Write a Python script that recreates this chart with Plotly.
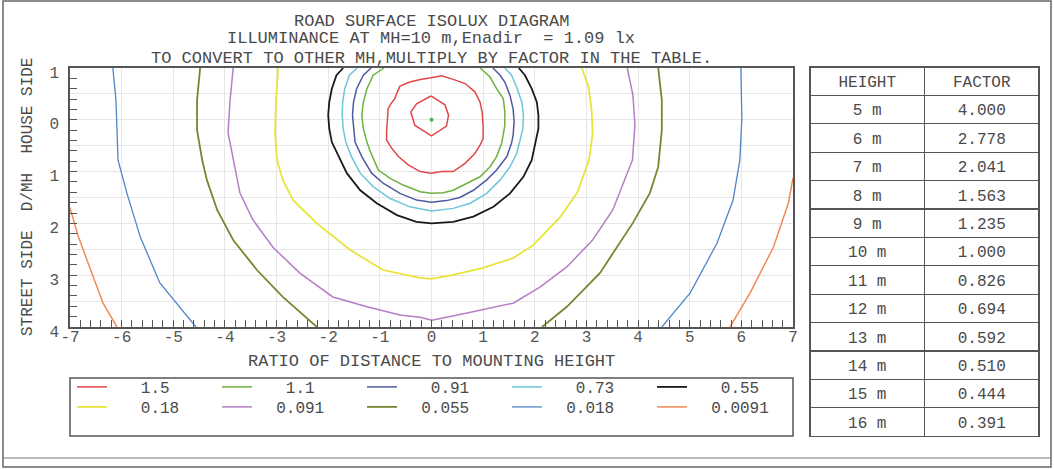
import plotly.graph_objects as go

# ---------------- data ----------------
levels = ["1.5", "1.1", "0.91", "0.73", "0.55",
          "0.18", "0.091", "0.055", "0.018", "0.0091"]

# isolux curves, x = ratio of distance to MH, y = D/MH (negative = house side)
iso_1_5_x = [-0.01, 0.26, 0.33, 0.29, 0.00, -0.32, -0.40, -0.29, -0.01, None,
             -0.01, 0.20, 0.42, 0.65, 0.84, 0.94, 0.98, 1.00, 1.00, 0.94, 0.84, 0.65,
             0.42, 0.20, -0.01, -0.22, -0.45, -0.64, -0.77, -0.87, -0.87, -0.86, -0.84,
             -0.80, -0.71, -0.66, -0.61, -0.42, -0.22, -0.01]
iso_1_5_y = [-0.46, -0.29, -0.09, 0.12, 0.31, 0.11, -0.15, -0.31, -0.46, None,
             -0.81, -0.85, -0.78, -0.70, -0.54, -0.34, -0.15, 0.11, 0.36, 0.49, 0.65, 0.84,
             1.00, 1.00, 1.03, 1.00, 0.87, 0.71, 0.55, 0.39, 0.24, -0.02, -0.21,
             -0.29, -0.41, -0.54, -0.65, -0.73, -0.78, -0.81]

iso_1_1_x = [-0.92, -1.13, -1.25, -1.32, -1.35, -1.32, -1.25, -1.19, -1.03, -0.80, -0.55,
             -0.22, 0.00, 0.23, 0.42, 0.68, 0.94, 1.13, 1.26, 1.36, 1.42, 1.42, 1.39, 1.26,
             1.13, 0.94]
iso_1_1_y = [-1.00, -0.86, -0.60, -0.34, -0.09, 0.17, 0.43, 0.60, 0.97, 1.13, 1.26,
             1.39, 1.42, 1.41, 1.36, 1.23, 1.10, 0.91, 0.71, 0.45, 0.11, -0.15, -0.41, -0.60,
             -0.83, -1.00]

iso_0_91_x = [-1.17, -1.32, -1.45, -1.51, -1.53, -1.51, -1.48, -1.35, -1.16, -0.93, -0.61,
              -0.29, 0.00, 0.29, 0.55, 0.81, 1.07, 1.26, 1.46, 1.55, 1.58, 1.60, 1.58, 1.52,
              1.42, 1.32, 1.19]
iso_0_91_y = [-1.00, -0.86, -0.60, -0.34, -0.09, 0.17, 0.43, 0.71, 1.03, 1.23, 1.42,
              1.55, 1.59, 1.56, 1.50, 1.36, 1.16, 0.97, 0.71, 0.45, 0.30, 0.04, -0.21, -0.47,
              -0.73, -0.87, -1.00]

iso_0_73_x = [-1.44, -1.59, -1.68, -1.72, -1.73, -1.71, -1.66, -1.55, -1.38, -1.13, -0.80,
              -0.42, 0.00, 0.42, 0.75, 1.07, 1.33, 1.52, 1.65, 1.71, 1.77, 1.78, 1.75, 1.66,
              1.55, 1.42]
iso_0_73_y = [-1.00, -0.86, -0.60, -0.34, -0.09, 0.17, 0.43, 0.71, 1.03, 1.29, 1.52,
              1.68, 1.76, 1.71, 1.61, 1.42, 1.16, 0.91, 0.65, 0.42, 0.17, -0.09, -0.34, -0.60,
              -0.86, -1.00]

iso_0_55_x = [-1.71, -1.84, -1.93, -1.98, -2.00, -1.98, -1.93, -1.80, -1.64, -1.38, -1.06,
              -0.67, -0.29, 0.00, 0.42, 0.81, 1.20, 1.52, 1.78, 1.94, 2.00, 2.07, 2.07, 2.04,
              1.94, 1.81, 1.69]
iso_0_55_y = [-1.00, -0.86, -0.60, -0.34, -0.09, 0.17, 0.43, 0.71, 1.03, 1.36, 1.61,
              1.84, 1.97, 2.00, 1.97, 1.87, 1.68, 1.42, 1.10, 0.78, 0.49, 0.17, -0.09, -0.34,
              -0.60, -0.86, -1.00]

iso_0_18_x = [-2.97, -3.01, -3.03, -2.99, -2.88, -2.68, -2.22, -1.58, -0.94, -0.22, 0.00,
              0.40, 1.00, 1.58, 1.97, 2.49, 2.82, 3.05, 3.12, 3.10, 3.04, 2.91]
iso_0_18_y = [-1.00, -0.38, 0.25, 0.78, 1.16, 1.55, 2.00, 2.51, 2.90, 3.05, 3.07,
              3.00, 2.86, 2.67, 2.42, 1.88, 1.41, 0.78, 0.26, -0.19, -0.64, -1.00]

iso_0_091_x = [-3.84, -3.90, -3.94, -3.84, -3.71, -3.46, -3.07, -2.55, -1.91, -1.25, -0.61,
               -0.22, 0.01, 0.69, 1.58, 2.10, 2.62, 3.12, 3.51, 3.79, 3.89, 3.94, 3.90, 3.79]
iso_0_091_y = [-1.00, -0.38, 0.25, 0.78, 1.41, 1.93, 2.46, 2.96, 3.42, 3.61, 3.77,
               3.81, 3.87, 3.73, 3.54, 3.23, 2.84, 2.32, 1.74, 1.03, 0.78, 0.10, -0.48, -1.00]

iso_0_055_x = [-4.48, -4.54, -4.54, -4.44, -4.35, -4.15, -3.84, -3.38, -2.88, -2.22, None,
               2.14, 2.62, 3.26, 3.90, 4.23, 4.39, 4.46, 4.46, 4.39]
iso_0_055_y = [-1.00, -0.38, 0.20, 0.78, 1.16, 1.74, 2.32, 2.90, 3.42, 4.00, None,
               4.00, 3.61, 2.96, 1.99, 1.41, 0.91, 0.20, -0.38, -1.00]

iso_0_018_x = [-6.17, -6.11, -6.09, -6.07, -5.90, -5.64, -5.26, -4.56, None,
               4.46, 5.01, 5.53, 5.84, 5.97, 6.01, 5.99]
iso_0_018_y = [-1.00, -0.38, 0.20, 0.78, 1.41, 2.26, 3.15, 4.00, None,
               4.00, 3.34, 2.38, 1.55, 0.78, -0.03, -1.00]

iso_0_0091_x = [-7.00, -6.85, -6.67, -6.36, -6.09, None, 5.78, 6.17, 6.62, 6.91, 7.00]
iso_0_0091_y = [1.70, 2.22, 2.71, 3.54, 4.00, None, 4.00, 3.34, 2.46, 1.61, 1.12]

lamp_x = [0.0]
lamp_y = [0.0]

x_ticks = [-7, -6, -5, -4, -3, -2, -1, 0, 1, 2, 3, 4, 5, 6, 7]
x_tick_labels = ["-7", "-6", "-5", "-4", "-3", "-2", "-1", "0", "1", "2", "3", "4", "5", "6", "7"]
y_ticks = [-1, 0, 1, 2, 3, 4]
y_tick_labels = ["1", "0", "1", "2", "3", "4"]

mh_heights = ["5 m", "6 m", "7 m", "8 m", "9 m", "10 m", "11 m", "12 m",
              "13 m", "14 m", "15 m", "16 m"]
mh_factors = [4.000, 2.778, 2.041, 1.563, 1.235, 1.000, 0.826, 0.694,
              0.592, 0.510, 0.444, 0.391]

title_lines = ["ROAD SURFACE ISOLUX DIAGRAM",
               "ILLUMINANCE AT MH=10 m,Enadir\u00a0\u00a0= 1.09 lx",
               "TO CONVERT TO OTHER MH,MULTIPLY BY FACTOR IN THE TABLE."]
x_title = "RATIO OF DISTANCE TO MOUNTING HEIGHT"
y_title = "STREET SIDE\u00a0\u00a0D/MH\u00a0\u00a0HOUSE SIDE"

# ---------------- styles ----------------
W, H = 1054, 469
FONT = "Liberation Mono"
TXT = "#4a4a4a"
AX = "#555555"
GRID = "#e6e6e6"
colors = ["#e04848", "#6cb33f", "#4f5aa5", "#6ec6dc", "#1a1a1a",
          "#e8e43a", "#b57ec7", "#7b8430", "#4f86c6", "#f08b55"]
widths = [1.5, 1.5, 1.5, 1.5, 1.8, 1.8, 1.5, 1.8, 1.3, 1.5]

iso_x = [iso_1_5_x, iso_1_1_x, iso_0_91_x, iso_0_73_x, iso_0_55_x,
         iso_0_18_x, iso_0_091_x, iso_0_055_x, iso_0_018_x, iso_0_0091_x]
iso_y = [iso_1_5_y, iso_1_1_y, iso_0_91_y, iso_0_73_y, iso_0_55_y,
         iso_0_18_y, iso_0_091_y, iso_0_055_y, iso_0_018_y, iso_0_0091_y]


def fx(p):
    return p / W


def fy(p):
    return 1 - p / H


def legend_label(s):
    pad = 3 if len(s) <= 4 else 2
    return "\u00a0" * pad + s


fig = go.Figure()
for i, lv in enumerate(levels):
    fig.add_trace(go.Scatter(
        x=iso_x[i], y=iso_y[i], mode="lines", name=legend_label(lv),
        line=dict(color=colors[i], width=widths[i]),
        legend="legend" if i < 5 else "legend2",
        connectgaps=False, hoverinfo="skip"))

fig.add_trace(go.Scatter(x=lamp_x, y=lamp_y, mode="markers", yaxis="y2",
                         marker=dict(color="#4caf50", size=4), showlegend=False,
                         hoverinfo="skip"))

cell_font = dict(family=FONT, size=16, color=TXT)
fig.add_trace(go.Table(
    domain=dict(x=[fx(810), fx(1040)], y=[fy(438), fy(67)]),
    columnwidth=[1, 1],
    header=dict(values=["HEIGHT", "FACTOR"], height=28.4, align="center",
                fill_color="white", line=dict(color=AX, width=1.2), font=cell_font),
    cells=dict(values=[mh_heights, [f"{v:.3f}" for v in mh_factors]], height=28.4,
               align="center", fill_color="white", line=dict(color=AX, width=1.2),
               font=cell_font)))

axis_font = dict(family=FONT, size=16, color="#555555")
legend_common = dict(orientation="h", xanchor="left", yanchor="top",
                     entrywidth=100, entrywidthmode="pixels", itemwidth=30,
                     font=dict(family=FONT, size=16, color=TXT),
                     bgcolor="rgba(0,0,0,0)", borderwidth=0,
                     itemclick=False, itemdoubleclick=False)

annotations = []
for k, (txt, yy) in enumerate(zip(title_lines, [21, 39, 58])):
    annotations.append(dict(text=txt, x=fx(431.5), y=fy(yy), xref="paper", yref="paper",
                            xanchor="center", yanchor="middle", showarrow=False,
                            font=dict(family=FONT, size=17, color=TXT)))
annotations.append(dict(text=x_title, x=fx(431.5), y=fy(361), xref="paper", yref="paper",
                        xanchor="center", yanchor="middle", showarrow=False,
                        font=dict(family=FONT, size=17, color=TXT)))
annotations.append(dict(text=y_title, x=fx(28), y=fy(197), xref="paper", yref="paper",
                        xanchor="center", yanchor="middle", showarrow=False, textangle=-90,
                        font=dict(family=FONT, size=16, color=TXT)))

shapes = [
    dict(type="rect", xref="paper", yref="paper", x0=fx(3), x1=fx(1051), y0=fy(467), y1=fy(1),
         line=dict(color="#666666", width=1.5)),
    dict(type="line", xref="paper", yref="paper", x0=fx(3), x1=fx(1051), y0=fy(458), y1=fy(458),
         line=dict(color="#777777", width=1.2)),
    dict(type="rect", xref="paper", yref="paper", x0=fx(70), x1=fx(793), y0=fy(436), y1=fy(378),
         line=dict(color=AX, width=1.5)),
]

fig.update_layout(
    width=W, height=H, margin=dict(l=0, r=0, t=0, b=0, pad=0),
    paper_bgcolor="white", plot_bgcolor="white", showlegend=True,
    xaxis=dict(domain=[fx(70), fx(793)], range=[-7, 7], tickmode="array",
               tickvals=x_ticks, ticktext=x_tick_labels, ticks="inside", ticklen=7,
               tickcolor=AX, tickwidth=1, showgrid=True, gridcolor=GRID, gridwidth=1,
               zeroline=False, showline=True, linecolor=AX, linewidth=1.5, mirror=True,
               tickfont=axis_font, automargin=False, fixedrange=True, ticklabelstandoff=-6,
               minor=dict(tickmode="linear", tick0=0, dtick=0.2, ticks="inside",
                          ticklen=7, tickcolor=AX, tickwidth=1, showgrid=False)),
    yaxis=dict(domain=[fy(327), fy(68)], range=[4, -1], tickmode="array",
               tickvals=y_ticks, ticktext=y_tick_labels, ticks="", showgrid=True,
               gridcolor=GRID, gridwidth=1, zeroline=False, showline=True, linecolor=AX,
               linewidth=1.5, mirror=True, tickfont=axis_font, ticklabelstandoff=6,
               ticklabelshift=-4,
               automargin=False, fixedrange=True,
               minor=dict(tickmode="linear", tick0=0, dtick=0.5, ticks="",
                          showgrid=True, gridcolor=GRID, gridwidth=1)),
    yaxis2=dict(overlaying="y", anchor="x", side="left", range=[4, -1], tickmode="linear",
                tick0=0, dtick=0.2, ticks="inside", ticklen=7, tickcolor=AX, tickwidth=1,
                showticklabels=False, showgrid=False, zeroline=False, showline=False,
                fixedrange=True),
    legend=dict(x=fx(72), y=fy(370), **legend_common),
    legend2=dict(x=fx(72), y=fy(390), **legend_common),
    annotations=annotations, shapes=shapes,
)

fig.write_html("out.html", config={"displayModeBar": False},
               post_script="document.body.style.margin='0';"
                           "document.body.style.overflow='hidden';")
